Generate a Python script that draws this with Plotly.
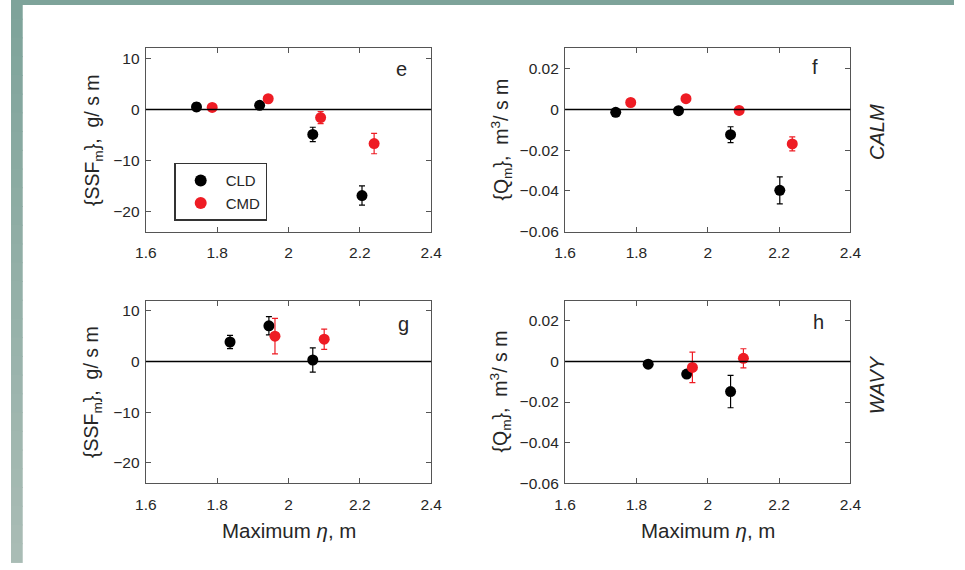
import plotly.graph_objects as go

# ---- data -------------------------------------------------------------
# CALM, panel e: depth-integrated suspended sediment flux <SSF_m> (g/s m)
e_cld_x = [1.742, 1.919, 2.068, 2.206]
e_cld_y = [0.5, 0.8, -4.9, -16.9]
e_cld_err = [0.8, 0.7, 1.4, 1.9]
e_cmd_x = [1.786, 1.943, 2.090, 2.240]
e_cmd_y = [0.4, 2.1, -1.6, -6.7]
e_cmd_err = [0.6, 0.6, 1.2, 2.0]

# CALM, panel f: depth-integrated volume flux <Q_m> (m^3/s m)
f_cld_x = [1.742, 1.918, 2.064, 2.202]
f_cld_y = [-0.0014, -0.0006, -0.0124, -0.0397]
f_cld_err = [0.0010, 0.0010, 0.0039, 0.0066]
f_cmd_x = [1.784, 1.939, 2.088, 2.237]
f_cmd_y = [0.0034, 0.0053, -0.0005, -0.0169]
f_cmd_err = [0.0010, 0.0010, 0.0010, 0.0034]

# WAVY, panel g
g_cld_x = [1.836, 1.945, 2.068]
g_cld_y = [3.85, 7.05, 0.3]
g_cld_err = [1.3, 1.8, 2.4]
g_cmd_x = [1.962, 2.100]
g_cmd_y = [5.0, 4.4]
g_cmd_err = [3.5, 2.0]

# WAVY, panel h
h_cld_x = [1.833, 1.941, 2.064]
h_cld_y = [-0.0013, -0.0062, -0.0148]
h_cld_err = [0.0010, 0.0015, 0.0080]
h_cmd_x = [1.957, 2.100]
h_cmd_y = [-0.0029, 0.0016]
h_cmd_err = [0.0075, 0.0047]

x_ticks = [1.6, 1.8, 2.0, 2.2, 2.4]
ssf_ticks = [-20, -10, 0, 10]
q_ticks = [-0.06, -0.04, -0.02, 0, 0.02]
panel_letters = ["e", "f", "g", "h"]
row_labels = ["CALM", "WAVY"]
series_names = ["CLD", "CMD"]
series_colors = ["#000000", "#ee1c24"]

# ---- layout geometry (paper fractions) -------------------------------
W, H = 965, 570
FONT = "Liberation Sans, Arial, sans-serif"
TXT = "#262626"
AX = "#555555"

col_px = [(138, 430), (567, 859)]
row_px = [(49, 235), (305, 490)]


def dom_x(c):
    return [col_px[c][0] / W, col_px[c][1] / W]


def dom_y(r):
    return [1 - row_px[r][1] / H, 1 - row_px[r][0] / H]


def label(text, x, y, size, xref="paper", yref="paper", angle=0):
    # centred text annotation
    return dict(text=text, xref=xref, yref=yref, x=x, y=y,
                xanchor="center", yanchor="middle", textangle=angle,
                showarrow=False, font=dict(family=FONT, size=size, color=TXT))


panels = [
    # (row, col, series data, y ticks, y range)
    (0, 0, [(e_cld_x, e_cld_y, e_cld_err), (e_cmd_x, e_cmd_y, e_cmd_err)], ssf_ticks, [-24, 12]),
    (0, 1, [(f_cld_x, f_cld_y, f_cld_err), (f_cmd_x, f_cmd_y, f_cmd_err)], q_ticks, [-0.06, 0.03]),
    (1, 0, [(g_cld_x, g_cld_y, g_cld_err), (g_cmd_x, g_cmd_y, g_cmd_err)], ssf_ticks, [-24, 12]),
    (1, 1, [(h_cld_x, h_cld_y, h_cld_err), (h_cmd_x, h_cmd_y, h_cmd_err)], q_ticks, [-0.06, 0.03]),
]

fig = go.Figure()
layout = {}
shapes = []
annotations = []

# teal frame strips (left edge gradient, top edge)
n_bands = 30
top_c = (0x7e, 0xa3, 0x9a)
bot_c = (0xa9, 0xbc, 0xb5)
for i in range(n_bands):
    t = i / (n_bands - 1)
    col = "rgb(%d,%d,%d)" % tuple(round(a + (b - a) * t) for a, b in zip(top_c, bot_c))
    shapes.append(dict(type="rect", xref="paper", yref="paper",
                       x0=0, x1=12 / W,
                       y0=1 - (i + 1.05) / n_bands, y1=1 - i / n_bands,
                       fillcolor=col, line=dict(width=0), layer="below"))
shapes.append(dict(type="rect", xref="paper", yref="paper",
                   x0=0, x1=1, y0=1 - 5 / H, y1=1,
                   fillcolor="rgb(126,163,154)", line=dict(width=0), layer="below"))

for k, (r, c, series, yt, yr) in enumerate(panels):
    idx = "" if k == 0 else str(k + 1)
    xa, ya = "x" + idx, "y" + idx
    for s, (xs, ys, es) in enumerate(series):
        fig.add_trace(go.Scatter(
            x=xs, y=ys, xaxis=xa, yaxis=ya, mode="markers",
            name=series_names[s], showlegend=(k == 0),
            marker=dict(color=series_colors[s], size=11, symbol="circle",
                        line=dict(width=0)),
            error_y=dict(type="data", array=es, visible=True,
                         color=series_colors[s], thickness=1.2, width=3),
        ))
    axis_common = dict(
        showline=True, linecolor=AX, linewidth=1.3, mirror="ticks",
        ticks="inside", ticklen=5, tickwidth=1, tickcolor=AX,
        showgrid=False, zeroline=False,
        tickfont=dict(family=FONT, size=15.5, color=TXT),
    )
    layout["xaxis" + idx] = dict(
        axis_common, domain=dom_x(c), anchor=ya, range=[1.6, 2.4],
        tickvals=x_ticks, ticklabelstandoff=7,
    )
    layout["yaxis" + idx] = dict(
        axis_common, domain=dom_y(r), anchor=xa, range=yr, tickvals=yt,
        ticklabelstandoff=2,
    )
    # zero reference line across the panel
    shapes.append(dict(type="line", xref=xa + " domain", yref=ya,
                       x0=0, x1=1, y0=0, y1=0,
                       line=dict(color="#000000", width=1.5)))
    # panel letter
    lx, ly = [(0.897, 0.887), (0.877, 0.898), (0.903, 0.870), (0.889, 0.882)][k]
    annotations.append(label(panel_letters[k], lx, ly, 20,
                             xref=xa + " domain", yref=ya + " domain"))

# y-axis titles
ytitle_ssf = "{SSF<sub>m</sub>},  g/ s m"
ytitle_q = "{Q<sub>m</sub>},  m<sup>3</sup>/ s m"
for r in range(2):
    yc = 1 - (row_px[r][0] + row_px[r][1]) / 2 / H
    annotations.append(label(ytitle_ssf, 84 / W, yc, 19.5, angle=-90))
    annotations.append(label(ytitle_q, 501 / W, yc, 19.5, angle=-90))

# row labels on the right
for r, yc_px in enumerate([134, 390]):
    annotations.append(label("<i>%s</i>" % row_labels[r], 886 / W, 1 - yc_px / H, 20,
                             angle=-90))

# x-axis titles
for c in range(2):
    xc = (col_px[c][0] + col_px[c][1]) / 2 / W
    annotations.append(label("Maximum <i>η</i>, m", xc, 1 - 538 / H, 20.5))

fig.update_layout(
    width=W, height=H,
    margin=dict(l=0, r=0, t=0, b=0),
    paper_bgcolor="white", plot_bgcolor="white",
    shapes=shapes, annotations=annotations,
    legend=dict(x=167 / W, y=1 - 165 / H, xanchor="left", yanchor="top",
                bgcolor="white", bordercolor="#333333", borderwidth=1.5,
                font=dict(family=FONT, size=15, color=TXT),
                itemwidth=40, tracegroupgap=0, entrywidth=55,
                itemsizing="constant"),
    **layout,
)

fig.write_html("out.html")
